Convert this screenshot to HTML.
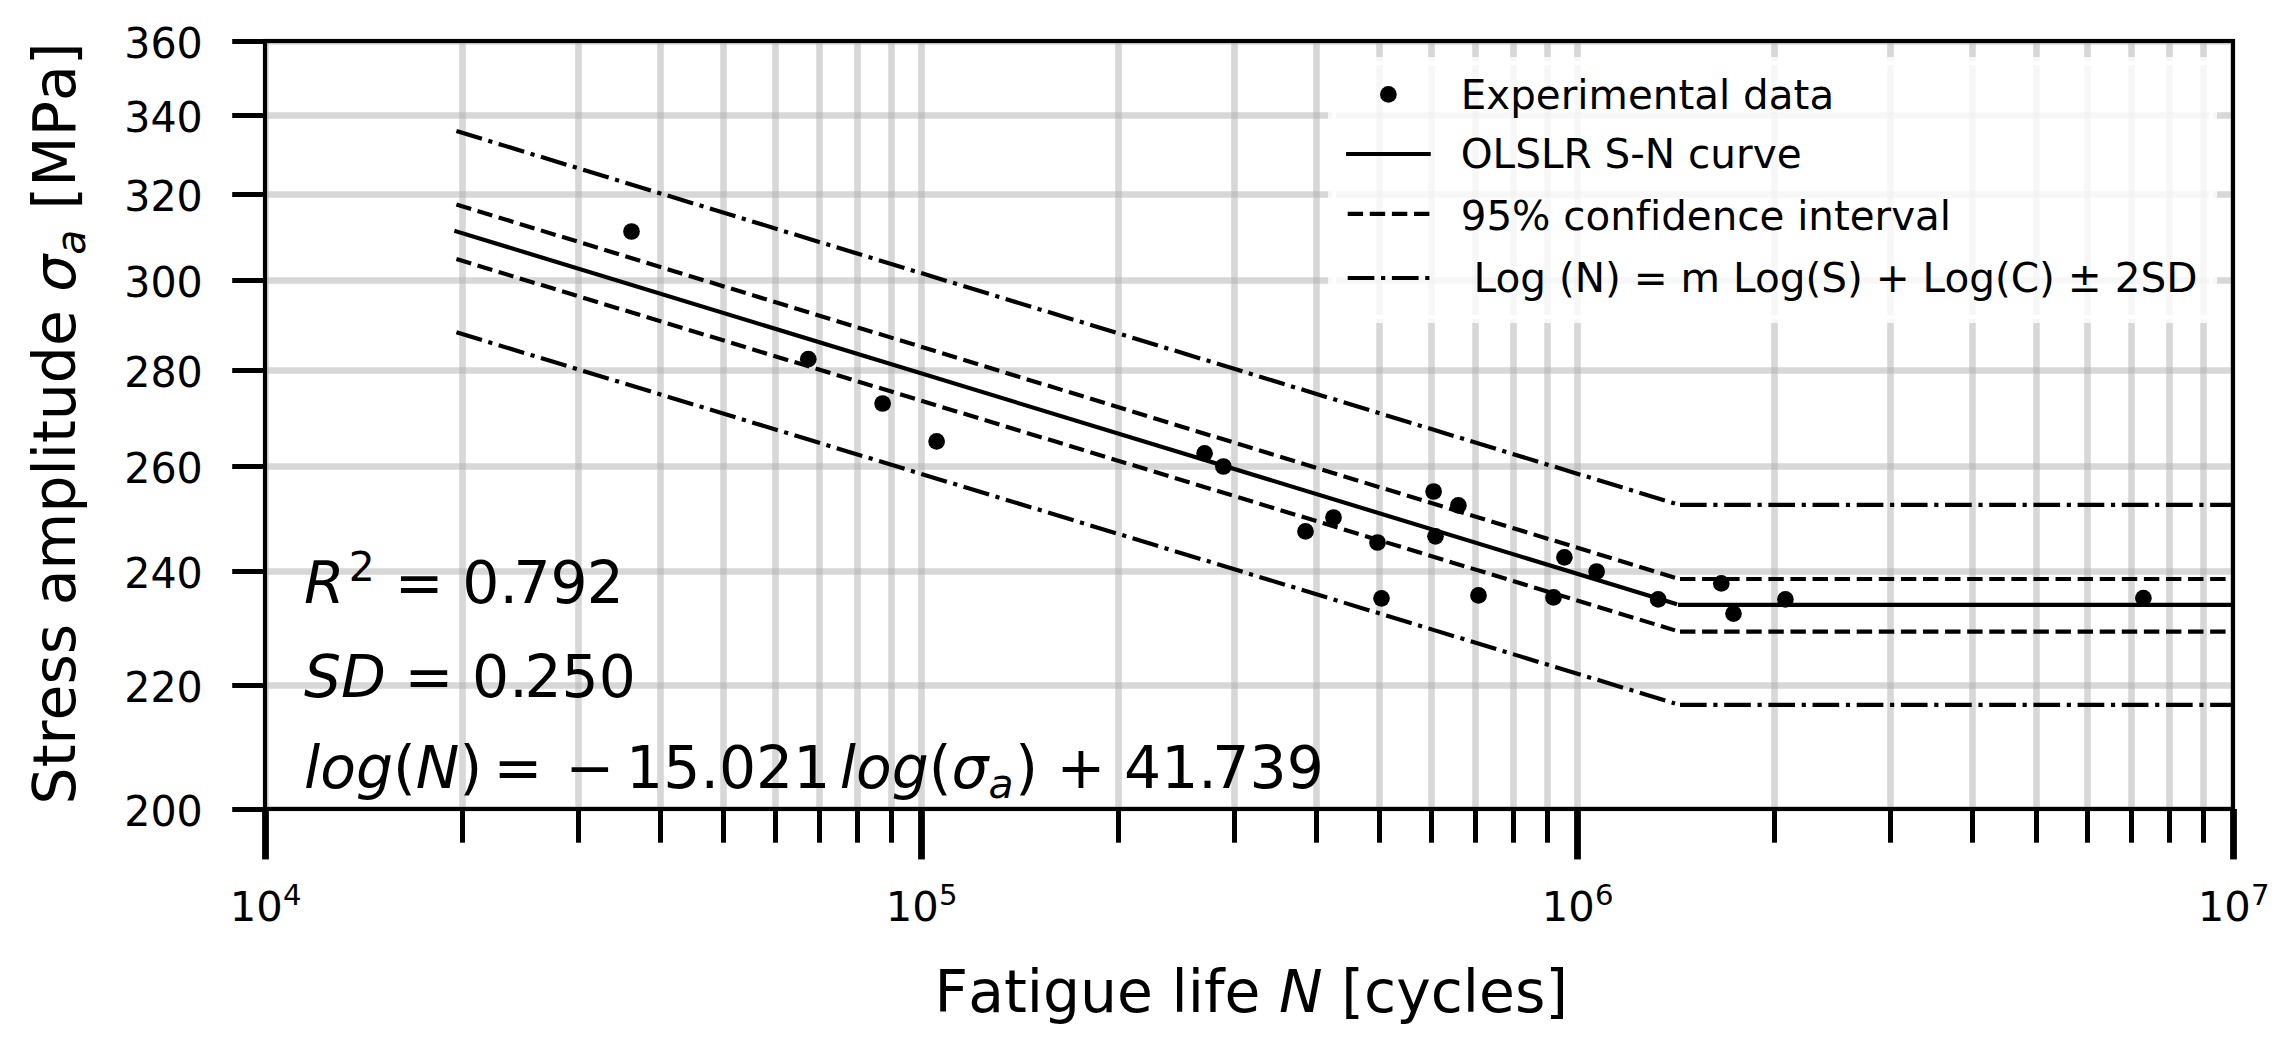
<!DOCTYPE html>
<html lang="en"><head><meta charset="utf-8"><title>S-N curve</title>
<style>html,body{margin:0;padding:0;background:#fff}svg{display:block}</style></head>
<body>
<svg width="2283" height="1042" viewBox="0 0 2283 1042" font-family="'DejaVu Sans', 'Liberation Sans', sans-serif" fill="#000" style="font-variant-ligatures:none;font-kerning:normal;white-space:pre">
<rect width="2283" height="1042" fill="#fff"/>
<defs><clipPath id="ax"><rect x="265.0" y="41.0" width="1968.0" height="768.0"/></clipPath></defs>
<g clip-path="url(#ax)" stroke="#b0b0b0" stroke-opacity="0.5" stroke-width="6.6" fill="none">
<path d="M265.50 41.0V809.0"/>
<path d="M462.50 41.0V809.0"/>
<path d="M578.50 41.0V809.0"/>
<path d="M660.50 41.0V809.0"/>
<path d="M723.50 41.0V809.0"/>
<path d="M775.50 41.0V809.0"/>
<path d="M819.50 41.0V809.0"/>
<path d="M857.50 41.0V809.0"/>
<path d="M891.50 41.0V809.0"/>
<path d="M921.50 41.0V809.0"/>
<path d="M1118.50 41.0V809.0"/>
<path d="M1234.50 41.0V809.0"/>
<path d="M1316.50 41.0V809.0"/>
<path d="M1379.50 41.0V809.0"/>
<path d="M1431.50 41.0V809.0"/>
<path d="M1475.50 41.0V809.0"/>
<path d="M1513.50 41.0V809.0"/>
<path d="M1547.50 41.0V809.0"/>
<path d="M1577.50 41.0V809.0"/>
<path d="M1774.50 41.0V809.0"/>
<path d="M1890.50 41.0V809.0"/>
<path d="M1972.50 41.0V809.0"/>
<path d="M2036.50 41.0V809.0"/>
<path d="M2087.50 41.0V809.0"/>
<path d="M2131.50 41.0V809.0"/>
<path d="M2169.50 41.0V809.0"/>
<path d="M2203.50 41.0V809.0"/>
<path d="M2233.50 41.0V809.0"/>
<path d="M265.0 809.50H2233.0"/>
<path d="M265.0 685.50H2233.0"/>
<path d="M265.0 571.50H2233.0"/>
<path d="M265.0 466.50H2233.0"/>
<path d="M265.0 370.50H2233.0"/>
<path d="M265.0 280.50H2233.0"/>
<path d="M265.0 194.50H2233.0"/>
<path d="M265.0 115.50H2233.0"/>
<path d="M265.0 41.50H2233.0"/>
</g>
<g clip-path="url(#ax)" stroke="#000" stroke-width="4.17" fill="none">
<path d="M456.40 131.00L1675.00 503.57" stroke-dasharray="26.67 6.67 4.17 6.67"/>
<path d="M1680.00 504.90H2243.0" stroke-dasharray="26.67 6.67 4.17 6.67"/>
<path d="M456.40 204.50L1675.00 577.67" stroke-dasharray="15.42 6.67"/>
<path d="M1680.00 579.00H2243.0" stroke-dasharray="15.42 6.67"/>
<path d="M456.40 231.40L1675.00 603.57" stroke-linecap="square"/>
<path d="M1680.00 604.90H2243.0" stroke-linecap="square"/>
<path d="M456.40 259.10L1675.00 630.37" stroke-dasharray="15.42 6.67"/>
<path d="M1680.00 631.70H2243.0" stroke-dasharray="15.42 6.67"/>
<path d="M456.40 332.30L1675.00 703.47" stroke-dasharray="26.67 6.67 4.17 6.67"/>
<path d="M1680.00 704.80H2243.0" stroke-dasharray="26.67 6.67 4.17 6.67"/>
</g>
<g>
<circle cx="631.5" cy="231.5" r="8.35"/>
<circle cx="808.3" cy="359.2" r="8.35"/>
<circle cx="882.6" cy="403.5" r="8.35"/>
<circle cx="936.6" cy="441.4" r="8.35"/>
<circle cx="1204.6" cy="453.3" r="8.35"/>
<circle cx="1223.4" cy="466.5" r="8.35"/>
<circle cx="1305.5" cy="531.4" r="8.35"/>
<circle cx="1333.5" cy="517.5" r="8.35"/>
<circle cx="1377.5" cy="542.5" r="8.35"/>
<circle cx="1381.5" cy="598.3" r="8.35"/>
<circle cx="1433.6" cy="491.5" r="8.35"/>
<circle cx="1435.5" cy="536.3" r="8.35"/>
<circle cx="1458.4" cy="505.3" r="8.35"/>
<circle cx="1478.5" cy="595.4" r="8.35"/>
<circle cx="1553.5" cy="597.4" r="8.35"/>
<circle cx="1564.4" cy="557.3" r="8.35"/>
<circle cx="1596.6" cy="571.5" r="8.35"/>
<circle cx="1658.2" cy="599.4" r="8.35"/>
<circle cx="1721.3" cy="583.4" r="8.35"/>
<circle cx="1733.5" cy="613.6" r="8.35"/>
<circle cx="1785.4" cy="599.4" r="8.35"/>
<circle cx="2143.4" cy="598.2" r="8.35"/>
</g>
<g stroke="#000" fill="none">
<path d="M265.50 809.0V859.4" stroke-width="6.8"/>
<path d="M921.50 809.0V859.4" stroke-width="6.8"/>
<path d="M1577.50 809.0V859.4" stroke-width="6.8"/>
<path d="M2233.50 809.0V859.4" stroke-width="6.8"/>
<path d="M462.50 809.0V842.7" stroke-width="5"/>
<path d="M578.50 809.0V842.7" stroke-width="5"/>
<path d="M660.50 809.0V842.7" stroke-width="5"/>
<path d="M723.50 809.0V842.7" stroke-width="5"/>
<path d="M775.50 809.0V842.7" stroke-width="5"/>
<path d="M819.50 809.0V842.7" stroke-width="5"/>
<path d="M857.50 809.0V842.7" stroke-width="5"/>
<path d="M891.50 809.0V842.7" stroke-width="5"/>
<path d="M1118.50 809.0V842.7" stroke-width="5"/>
<path d="M1234.50 809.0V842.7" stroke-width="5"/>
<path d="M1316.50 809.0V842.7" stroke-width="5"/>
<path d="M1379.50 809.0V842.7" stroke-width="5"/>
<path d="M1431.50 809.0V842.7" stroke-width="5"/>
<path d="M1475.50 809.0V842.7" stroke-width="5"/>
<path d="M1513.50 809.0V842.7" stroke-width="5"/>
<path d="M1547.50 809.0V842.7" stroke-width="5"/>
<path d="M1774.50 809.0V842.7" stroke-width="5"/>
<path d="M1890.50 809.0V842.7" stroke-width="5"/>
<path d="M1972.50 809.0V842.7" stroke-width="5"/>
<path d="M2036.50 809.0V842.7" stroke-width="5"/>
<path d="M2087.50 809.0V842.7" stroke-width="5"/>
<path d="M2131.50 809.0V842.7" stroke-width="5"/>
<path d="M2169.50 809.0V842.7" stroke-width="5"/>
<path d="M2203.50 809.0V842.7" stroke-width="5"/>
<path d="M232.2 809.50H265.0" stroke-width="5"/>
<path d="M232.2 685.50H265.0" stroke-width="5"/>
<path d="M232.2 571.50H265.0" stroke-width="5"/>
<path d="M232.2 466.50H265.0" stroke-width="5"/>
<path d="M232.2 370.50H265.0" stroke-width="5"/>
<path d="M232.2 280.50H265.0" stroke-width="5"/>
<path d="M232.2 194.50H265.0" stroke-width="5"/>
<path d="M232.2 115.50H265.0" stroke-width="5"/>
<path d="M232.2 41.50H265.0" stroke-width="5"/>
</g>
<rect x="265.0" y="41.0" width="1968.0" height="768.0" fill="none" stroke="#000" stroke-width="4.17" stroke-linejoin="miter"/>
<text transform="translate(202.8 825.60) scale(0.988 1.03)" font-size="41.667" text-anchor="end">200</text>
<text transform="translate(202.8 701.60) scale(0.988 1.03)" font-size="41.667" text-anchor="end">220</text>
<text transform="translate(202.8 587.60) scale(0.988 1.03)" font-size="41.667" text-anchor="end">240</text>
<text transform="translate(202.8 482.60) scale(0.988 1.03)" font-size="41.667" text-anchor="end">260</text>
<text transform="translate(202.8 386.60) scale(0.988 1.03)" font-size="41.667" text-anchor="end">280</text>
<text transform="translate(202.8 296.60) scale(0.988 1.03)" font-size="41.667" text-anchor="end">300</text>
<text transform="translate(202.8 210.60) scale(0.988 1.03)" font-size="41.667" text-anchor="end">320</text>
<text transform="translate(202.8 131.60) scale(0.988 1.03)" font-size="41.667" text-anchor="end">340</text>
<text transform="translate(202.8 57.60) scale(0.988 1.03)" font-size="41.667" text-anchor="end">360</text>
<text xml:space="preserve"><tspan x="229.70 256.18" y="920.90" font-size="41.67">10</tspan><tspan x="283.07" y="904.82" font-size="29.17">4</tspan></text>
<text xml:space="preserve"><tspan x="885.70 912.18" y="920.90" font-size="41.67">10</tspan><tspan x="939.07" y="904.82" font-size="29.17">5</tspan></text>
<text xml:space="preserve"><tspan x="1541.70 1568.18" y="920.90" font-size="41.67">10</tspan><tspan x="1595.07" y="904.82" font-size="29.17">6</tspan></text>
<text xml:space="preserve"><tspan x="2197.70 2224.18" y="920.90" font-size="41.67">10</tspan><tspan x="2251.07" y="904.82" font-size="29.17">7</tspan></text>
<text xml:space="preserve"><tspan x="934.60 968.18 1003.95 1026.84 1043.06 1080.11 1117.11 1153.02 1171.58 1187.80 1204.01 1224.57 1260.48" y="1012.10" font-size="58.33">Fatigue life </tspan><tspan x="1279.04" y="1012.10" font-size="58.33" font-style="oblique">N</tspan><tspan x="1322.70 1341.26 1364.03 1396.13 1430.67 1462.77 1478.99 1514.90 1545.31" y="1012.10" font-size="58.33"> [cycles]</tspan></text>
<text transform="translate(75.3 804.4) rotate(-90)" xml:space="preserve"><tspan x="0.00 37.05 59.94 83.94 119.86 150.27 180.68 199.24 235.01 291.88 328.93 345.15 361.37 384.25 421.25 458.31 494.22" y="-0.00" font-size="58.33">Stress amplitude </tspan><tspan x="512.78" y="-0.00" font-size="58.33" font-style="oblique">σ</tspan><tspan x="549.77" y="9.52" font-size="40.83" font-style="oblique">a</tspan><tspan x="576.40 594.96 617.73 668.10 703.30 739.07" y="-0.00" font-size="58.33"> [MPa]</tspan></text>
<rect x="1332" y="61" width="881" height="258" rx="8" fill="#fff" fill-opacity="0.8" stroke="#fff" stroke-opacity="0.8" stroke-width="8"/>
<circle cx="1388.4" cy="94.4" r="8.35"/>
<g stroke="#000" stroke-width="4.17" fill="none">
<path d="M1346.1 154H1430.75"/>
<path d="M1347.7 213.9H1430" stroke-dasharray="15.42 6.67"/>
<path d="M1347.7 278H1430" stroke-dasharray="26.67 6.67 4.17 6.67"/>
</g>
<text transform="translate(1460.7 109.0) scale(0.9703 1)" font-size="41.667" xml:space="preserve">Experimental data</text>
<text transform="translate(1460.7 168.2) scale(0.9727 1)" font-size="41.667" xml:space="preserve">OLSLR S-N curve</text>
<text transform="translate(1460.7 230.15) scale(0.9695 1)" font-size="41.667" xml:space="preserve">95% confidence interval</text>
<text transform="translate(1460.7 291.5) scale(0.9732 1)" font-size="41.667" xml:space="preserve"> Log (N) = m Log(S) + Log(C) ± 2SD</text>
<text xml:space="preserve"><tspan x="304.00" y="603.10" font-size="58.33" font-style="oblique">R</tspan><tspan x="348.63" y="580.89" font-size="40.83">2</tspan><tspan x="376.21 394.77 443.68 462.24 499.38 513.43 550.57 586.71" y="603.10" font-size="58.33"> = 0.792</tspan></text>
<text xml:space="preserve"><tspan x="304.00 341.05" y="696.70" font-size="58.33" font-style="oblique">SD</tspan><tspan x="386.00 404.56 453.47 472.03 509.17 524.47 561.61 598.75" y="696.70" font-size="58.33"> = 0.250</tspan></text>
<text xml:space="preserve"><tspan x="304.00 320.22 355.93" y="788.10" font-size="58.33" font-style="oblique">log</tspan><tspan x="392.99" y="788.10" font-size="58.33">(</tspan><tspan x="415.76" y="788.10" font-size="58.33" font-style="oblique">N</tspan><tspan x="459.43 493.58 565.53 626.11 663.25 700.39 718.94 756.08 793.22" y="788.10" font-size="58.33">)=−15.021</tspan><tspan x="839.84 856.06 891.77" y="788.10" font-size="58.33" font-style="oblique">log</tspan><tspan x="928.83" y="788.10" font-size="58.33">(</tspan><tspan x="951.60" y="788.10" font-size="58.33" font-style="oblique">σ</tspan><tspan x="988.60" y="797.62" font-size="40.83" font-style="oblique">a</tspan><tspan x="1015.22 1038.00 1056.55 1105.47 1124.02 1161.16 1198.30 1212.36 1249.50 1286.64" y="788.10" font-size="58.33">) + 41.739</tspan></text>
</svg>
</body></html>
